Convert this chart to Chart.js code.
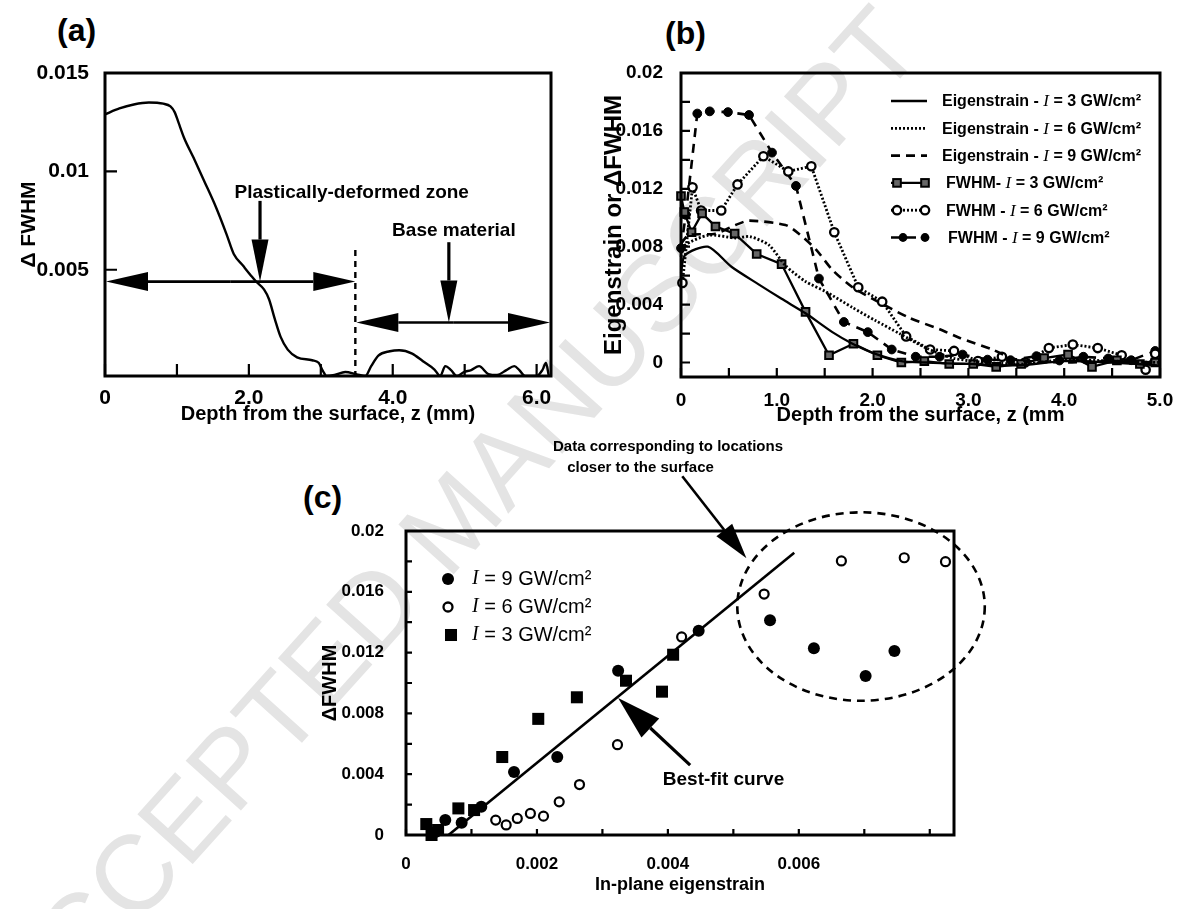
<!DOCTYPE html>
<html><head><meta charset="utf-8">
<script src="https://cdn.jsdelivr.net/npm/chart.js@4.4.1/dist/chart.umd.min.js"></script>
<style>
body{margin:0;width:1184px;height:909px;background:#fff;position:relative;overflow:hidden;font-family:'Liberation Sans',Arial,sans-serif}
canvas{position:absolute}
.lbl{position:absolute;font-weight:bold;font-size:32px;line-height:1;color:#000}
.wm{position:absolute;left:452px;top:520px;transform:translate(-50%,-50%) rotate(-48deg);font-size:108px;color:#e4e4e4;white-space:nowrap;font-family:'Liberation Sans',Arial,sans-serif}
</style></head><body>
<div class="wm">ACCEPTED MANUSCRIPT</div>
<div class="lbl" style="left:57px;top:14px">(a)</div>
<div class="lbl" style="left:665px;top:17px">(b)</div>
<div class="lbl" style="left:303px;top:481px">(c)</div>
<canvas id="ca" width="590" height="440" style="left:0;top:0"></canvas>
<canvas id="cb" width="594" height="440" style="left:590px;top:0"></canvas>
<canvas id="cc" width="700" height="479" style="left:300px;top:430px"></canvas>
<script>
// ---------- Panel (a) ----------
const aDepth = [0,0.2,0.4,0.61,0.81,0.91,0.97,1.02,1.1,1.23,1.38,1.54,1.69,1.79,1.92,2.03,2.1,2.21,2.28,2.36,2.44,2.54,2.67,2.88,2.97,3.03,3.08,3.19,3.34,3.5,3.62,3.7,3.8,3.96,4.09,4.27,4.42,4.58,4.66,4.73,4.81,4.89,4.99,5.09,5.2,5.33,5.45,5.58,5.69,5.76,5.84,5.93,6.0,6.08,6.13,6.17];
const aFWHM = [0.0129,0.0132,0.0134,0.0135,0.01344,0.0133,0.013,0.0125,0.0117,0.0107,0.0095,0.0082,0.0068,0.0058,0.0052,0.0047,0.0044,0.004,0.0035,0.0025,0.0016,0.00094,0.00055,0.0004,0.00027,-0.00015,-0.0004,-0.00035,-0.0002,-0.00032,-0.0004,0.0001,0.00064,0.00086,0.00091,0.00074,0.00035,-0.00007,-0.0004,0.0001,-0.0001,-0.0004,-0.0002,-0.0001,0.0001,-0.0003,-0.00035,-0.0001,0.0001,-0.0001,-0.0004,-0.0004,-0.0004,-0.0001,0.00026,-0.0004];
const aXTicks = [0,1,2,3,4,5,6];
const aXTickLabels = ['0','','2.0','','4.0','','6.0'];
const aYTicks = [0.005,0.01,0.015];
const aYTickLabels = ['0.005','0.01','0.015'];

// ---------- Panel (b) ----------
const bEig3Depth = [0,0.04,0.28,0.53,0.81,1.05,1.30,1.58,1.79,2.03,2.30,2.56,3.0,3.5,4.0,4.5,5.0];
const bEig3 = [0.0062,0.0074,0.0080,0.0066,0.0054,0.0044,0.0034,0.0021,0.0013,0.0006,0.0001,0.0,-0.0001,-0.0002,0.0001,0.0,-0.0002];
const bEig6Depth = [0,0.04,0.29,0.57,0.72,0.92,1.09,1.30,1.51,1.79,2.03,2.28,2.56,2.84,3.2,3.6,4.0,4.5,5.0];
const bEig6 = [0.0073,0.0081,0.0088,0.0086,0.0087,0.0081,0.0067,0.0056,0.0049,0.0038,0.0029,0.0020,0.0010,0.0003,0.0,-0.0001,0.0002,0.0001,0.0];
const bEig9Depth = [0,0.08,0.36,0.57,0.71,1.09,1.23,1.41,1.58,1.79,2.03,2.38,2.70,2.91,3.25,3.5,4.0,4.5,5.0];
const bEig9 = [0.0082,0.0088,0.0089,0.0095,0.0098,0.0095,0.0089,0.0078,0.0064,0.0052,0.0043,0.0031,0.0023,0.0017,0.0009,0.0002,0.0,0.0001,0.0];
const bF3Depth = [0,0.035,0.11,0.22,0.36,0.56,0.79,1.05,1.30,1.545,1.80,2.05,2.30,2.54,2.80,3.05,3.29,3.55,3.79,4.04,4.29,4.55,4.79,4.95];
const bF3 = [0.0115,0.0104,0.0090,0.0103,0.0094,0.0089,0.0075,0.0068,0.0035,0.0005,0.0013,0.0005,0.0,0.0001,-0.0001,-0.0001,-0.0003,-0.0001,0.0003,0.00055,-0.0003,0.00015,-0.0001,0.0];
const bF6Depth = [0.015,0.12,0.21,0.42,0.59,0.86,1.12,1.36,1.60,1.85,2.10,2.35,2.60,2.85,3.10,3.35,3.59,3.84,4.09,4.35,4.60,4.85,4.95];
const bF6 = [0.0055,0.0121,0.0105,0.0105,0.0123,0.01425,0.0132,0.01356,0.0090,0.0052,0.0042,0.0018,0.0009,0.0008,0.0001,0.0004,0.0,0.0010,0.00124,0.0010,0.0005,-0.0005,0.0006];
const bF9Depth = [0,0.05,0.17,0.30,0.49,0.71,0.95,1.20,1.44,1.70,1.95,2.20,2.45,2.70,2.94,3.20,3.44,3.71,3.95,4.20,4.46,4.70,4.95];
const bF9 = [0.0079,0.0102,0.0172,0.01735,0.0173,0.0171,0.0145,0.0122,0.0058,0.0028,0.0021,0.0009,0.0004,0.0004,0.00055,0.0002,0.00016,0.00044,0.00014,0.0004,0.00028,0.00016,0.0008];
const bXTicks = [0,0.5,1,1.5,2,2.5,3,3.5,4,4.5,5];
const bXTickLabels = ['0','','1.0','','2.0','','3.0','','4.0','','5.0'];
const bYTicks = [0,0.002,0.004,0.006,0.008,0.01,0.012,0.014,0.016,0.018,0.02];
const bYTickLabels = ['0','','0.004','','0.008','','0.012','','0.016','','0.02'];
const bLegendPrefix = ['Eigenstrain - ','Eigenstrain - ','Eigenstrain - ','FWHM- ','FWHM - ','FWHM - '];
const bLegendSuffix = [' = 3 GW/cm\u00b2',' = 6 GW/cm\u00b2',' = 9 GW/cm\u00b2',' = 3 GW/cm\u00b2',' = 6 GW/cm\u00b2',' = 9 GW/cm\u00b2'];

// ---------- Panel (c) ----------
const cI9Eig = [0.00045,0.0006,0.00085,0.00115,0.00165,0.00231,0.00324,0.00447,0.00556,0.00623,0.00702,0.00746];
const cI9FWHM = [0.0002,0.00098,0.00081,0.00186,0.00415,0.00513,0.01081,0.01343,0.01413,0.01228,0.01046,0.0121];
const cI6Eig = [0.00137,0.00153,0.0017,0.0019,0.0021,0.00234,0.00265,0.00323,0.00421,0.00547,0.00665,0.00761,0.00824];
const cI6FWHM = [0.00098,0.00066,0.00109,0.00142,0.00124,0.00218,0.00332,0.00594,0.01303,0.01585,0.01803,0.01824,0.01798];
const cI3Eig = [0.00031,0.00039,0.00049,0.0008,0.00104,0.00147,0.00202,0.00261,0.00336,0.00391,0.00408];
const cI3FWHM = [0.00072,0.0,0.00033,0.00175,0.00164,0.00513,0.00764,0.00906,0.01015,0.00943,0.01186];
const cFitEig = [0.00065,0.00593];
const cFitFWHM = [0.0,0.01857];
const cXTicks = [0,0.001,0.002,0.003,0.004,0.005,0.006,0.007,0.008];
const cXTickLabels = ['0','','0.002','','0.004','','0.006','',''];
const cYTicks = [0,0.002,0.004,0.006,0.008,0.01,0.012,0.014,0.016,0.018,0.02];
const cYTickLabels = ['0','','0.004','','0.008','','0.012','','0.016','','0.02'];
const cLegendValues = ['9','6','3'];

// ---------- helpers ----------
const FF = "'Liberation Sans', Arial, sans-serif";
const SERIF = "'Liberation Serif', 'Times New Roman', serif";
const xy = (xs, ys) => xs.map((v, i) => ({x: v, y: ys[i]}));
const bold = s => ({family: FF, size: s, weight: 'bold'});

function axis(min, max, ticks, labels, fitKey, fitVal, pad, tsize, title, tfsize, tpad){
  return {
    type: 'linear', min, max,
    afterBuildTicks: s => { s.ticks = ticks.map(v => ({value: v})); },
    afterFit: s => { s[fitKey] = fitVal; },
    grid: {display: false}, border: {display: false},
    ticks: {autoSkip: false, maxRotation: 0, minRotation: 0, padding: pad, color: '#000', font: bold(tsize),
            callback: (v, i) => labels[i]},
    title: {display: true, text: title, color: '#000', font: bold(tfsize), padding: tpad}
  };
}
function frame(tickLen, lw){
  return {id: 'frame', afterDatasetsDraw(chart){
    const {ctx, chartArea: a, scales: {x, y}} = chart;
    ctx.save(); ctx.strokeStyle = '#000'; ctx.setLineDash([]);
    ctx.lineWidth = 2.2; ctx.beginPath();
    x.ticks.forEach(t => { const p = x.getPixelForValue(t.value); ctx.moveTo(p, a.bottom); ctx.lineTo(p, a.bottom - tickLen); });
    y.ticks.forEach(t => { const p = y.getPixelForValue(t.value); ctx.moveTo(a.left, p); ctx.lineTo(a.left + tickLen, p); });
    ctx.stroke();
    ctx.lineWidth = lw; ctx.strokeRect(a.left, a.top, a.right - a.left, a.bottom - a.top);
    ctx.restore();
  }};
}
function arrow(ctx, x0, y0, x1, y1, hl, hw, lw){
  const ang = Math.atan2(y1 - y0, x1 - x0);
  const bx = x1 - hl * Math.cos(ang), by = y1 - hl * Math.sin(ang);
  ctx.lineWidth = lw; ctx.setLineDash([]);
  ctx.beginPath(); ctx.moveTo(x0, y0); ctx.lineTo(bx, by); ctx.stroke();
  ctx.beginPath(); ctx.moveTo(x1, y1);
  ctx.lineTo(bx + hw * Math.sin(ang), by - hw * Math.cos(ang));
  ctx.lineTo(bx - hw * Math.sin(ang), by + hw * Math.cos(ang));
  ctx.closePath(); ctx.fill();
}
function rich(ctx, x, y, parts){
  let cx = x;
  ctx.textBaseline = 'middle'; ctx.textAlign = 'left'; ctx.fillStyle = '#000';
  parts.forEach(([t, f]) => { ctx.font = f; ctx.fillText(t, cx, y); cx += ctx.measureText(t).width; });
}
const baseOpts = (padding) => ({
  responsive: false, animation: false, events: [],
  layout: {padding},
  plugins: {legend: {display: false}, tooltip: {enabled: false}}
});

// ---------- Chart (a) ----------
const annA = {id: 'annA', afterDraw(chart){
  const {ctx, scales: {x, y}} = chart;
  const X = v => x.getPixelForValue(v), Y = v => y.getPixelForValue(v);
  ctx.save(); ctx.strokeStyle = '#000'; ctx.fillStyle = '#000';
  const zoneEnd = 3.48, yP = 0.0044, yB = 0.00232;
  const mid1 = (X(0) + X(zoneEnd)) / 2;
  arrow(ctx, mid1, Y(yP), X(0) + 1, Y(yP), 42, 9.5, 2.7);
  arrow(ctx, mid1, Y(yP), X(zoneEnd), Y(yP), 42, 9.5, 2.7);
  ctx.lineWidth = 2.4; ctx.setLineDash([6, 5]);
  ctx.beginPath(); ctx.moveTo(X(zoneEnd), Y(0.006)); ctx.lineTo(X(zoneEnd), Y(-0.0004)); ctx.stroke();
  const mid2 = (X(zoneEnd) + X(6.2)) / 2;
  arrow(ctx, mid2, Y(yB), X(zoneEnd) + 1, Y(yB), 42, 9.5, 2.7);
  arrow(ctx, mid2, Y(yB), X(6.2) - 1, Y(yB), 42, 9.5, 2.7);
  arrow(ctx, X(2.155), Y(0.0085), X(2.155), Y(yP), 42, 8.5, 3.2);
  arrow(ctx, X(4.78), Y(0.0064), X(4.78), Y(yB), 42, 8.5, 3.2);
  ctx.textAlign = 'center'; ctx.textBaseline = 'middle';
  ctx.font = 'bold 19px ' + FF;
  ctx.fillText('Plastically-deformed zone', X(3.43), Y(0.0089));
  ctx.fillText('Base material', X(4.85), Y(0.0070));
  ctx.restore();
}};
new Chart(document.getElementById('ca'), {
  type: 'scatter',
  data: {datasets: [{data: xy(aDepth, aFWHM), showLine: true, borderColor: '#000', borderWidth: 2.4,
    pointRadius: 0, cubicInterpolationMode: 'monotone'}]},
  options: Object.assign(baseOpts({top: 73, right: 39, left: 0, bottom: 0}), {
    scales: {
      x: axis(0, 6.2, aXTicks, aXTickLabels, 'height', 64, 2, 21, 'Depth from the surface, z (mm)', 20, {top: 0, bottom: 14}),
      y: axis(-0.0004, 0.015, aYTicks, aYTickLabels, 'width', 105, 8, 21, '\u0394 FWHM', 21, {top: 17, bottom: 0})
    }
  }),
  plugins: [frame(12, 3), annA]
});

// ---------- Chart (b) ----------
const bStyles = [
  {dash: [], lw: 2.3, pt: false},
  {dash: [2, 2], lw: 2.8, pt: false},
  {dash: [9, 6], lw: 2.6, pt: false},
  {dash: [], lw: 2.3, pt: 'rect'},
  {dash: [2, 2], lw: 2.8, pt: 'open'},
  {dash: [9, 7], lw: 2.6, pt: 'filled'}
];
function bDataset(xs, ys, st, tension){
  const d = {data: xy(xs, ys), showLine: true, borderColor: '#000', borderWidth: st.lw, borderDash: st.dash,
    tension: tension, pointRadius: 0, clip: false};
  if (st.pt === 'rect') Object.assign(d, {pointStyle: 'rect', pointRadius: 5.4, pointBackgroundColor: '#666', pointBorderColor: '#000', pointBorderWidth: 2});
  if (st.pt === 'open') Object.assign(d, {pointStyle: 'circle', pointRadius: 4.2, pointBackgroundColor: '#fff', pointBorderColor: '#000', pointBorderWidth: 2.3});
  if (st.pt === 'filled') Object.assign(d, {pointStyle: 'circle', pointRadius: 4.4, pointBackgroundColor: '#000', pointBorderColor: '#000', pointBorderWidth: 1});
  return d;
}
function drawMarker(ctx, kind, x, y, r){
  ctx.save(); ctx.setLineDash([]); ctx.strokeStyle = '#000';
  if (kind === 'rect') { ctx.fillStyle = '#666'; ctx.lineWidth = 2; const s = r * Math.SQRT1_2; ctx.fillRect(x - s, y - s, 2 * s, 2 * s); ctx.strokeRect(x - s, y - s, 2 * s, 2 * s); }
  if (kind === 'open') { ctx.fillStyle = '#fff'; ctx.lineWidth = 2.3; ctx.beginPath(); ctx.arc(x, y, r, 0, 2 * Math.PI); ctx.fill(); ctx.stroke(); }
  if (kind === 'filled') { ctx.fillStyle = '#000'; ctx.beginPath(); ctx.arc(x, y, r, 0, 2 * Math.PI); ctx.fill(); }
  ctx.restore();
}
const legB = {id: 'legB', afterDraw(chart){
  const ctx = chart.ctx;
  const rowY = [101, 128.3, 155.6, 182.9, 210.2, 237.5];
  bStyles.forEach((st, i) => {
    const y = rowY[i], x0 = 301, x1 = 337;
    ctx.save(); ctx.strokeStyle = '#000'; ctx.lineWidth = st.lw; ctx.setLineDash(st.dash);
    ctx.beginPath(); ctx.moveTo(x0, y); ctx.lineTo(x1, y); ctx.stroke(); ctx.restore();
    if (st.pt === 'rect') { drawMarker(ctx, 'rect', x0 + 6, y, 5.4); drawMarker(ctx, 'rect', x1 - 2, y, 5.4); }
    if (st.pt === 'open') { drawMarker(ctx, 'open', x0 + 6, y, 4.2); drawMarker(ctx, 'open', x1 - 2, y, 4.2); }
    if (st.pt === 'filled') { drawMarker(ctx, 'filled', x0 + 12, y, 4.4); drawMarker(ctx, 'filled', x1 - 2, y, 4.4); }
    const tx = i < 3 ? 352 : 356 + (i === 5 ? 2 : 0);
    rich(ctx, tx, y + 1, [[bLegendPrefix[i], 'bold 16px ' + FF], ['I', 'italic 17px ' + SERIF], [bLegendSuffix[i], 'bold 16px ' + FF]]);
  });
}};
new Chart(document.getElementById('cb'), {
  type: 'scatter',
  data: {datasets: [
    bDataset(bEig3Depth, bEig3, bStyles[0], 0.25),
    bDataset(bEig6Depth, bEig6, bStyles[1], 0.25),
    bDataset(bEig9Depth, bEig9, bStyles[2], 0.25),
    bDataset(bF3Depth, bF3, bStyles[3], 0),
    bDataset(bF6Depth, bF6, bStyles[4], 0),
    bDataset(bF9Depth, bF9, bStyles[5], 0)
  ]},
  options: Object.assign(baseOpts({top: 73, right: 24, left: 0, bottom: 0}), {
    scales: {
      x: axis(0, 5, bXTicks, bXTickLabels, 'height', 63, 4, 19, 'Depth from the surface, z (mm', 20, {top: 0, bottom: 13}),
      y: axis(-0.001, 0.02, bYTicks, bYTickLabels, 'width', 91, 10, 19, 'Eigenstrain or \u0394FWHM', 24, {top: 10, bottom: 0})
    }
  }),
  plugins: [frame(9, 3), legB]
});

// ---------- Chart (c) ----------
const cMarks = [
  {kind: 'filled', r: 6},
  {kind: 'open', r: 4.5},
  {kind: 'rect', r: 8.5}
];
const annC = {id: 'annC', afterDraw(chart){
  const {ctx, scales: {x, y}} = chart;
  const X = v => x.getPixelForValue(v), Y = v => y.getPixelForValue(v);
  ctx.save(); ctx.strokeStyle = '#000'; ctx.fillStyle = '#000';
  const ecx = 0.00695, ecy = 0.01503, erx = 0.00189, ery = 0.0062;
  ctx.lineWidth = 2.6; ctx.setLineDash([8, 6]);
  ctx.beginPath();
  ctx.ellipse(X(ecx), Y(ecy), X(ecx + erx) - X(ecx), Y(ecy) - Y(ecy + ery), 0, 0, 2 * Math.PI);
  ctx.stroke();
  arrow(ctx, X(0.00422), Y(0.0236), X(0.0052), Y(0.0182), 36, 10, 2.6);
  arrow(ctx, X(0.00434), Y(0.0046), X(0.00324), Y(0.00901), 44, 13, 3.2);
  ctx.textAlign = 'center'; ctx.textBaseline = 'middle'; ctx.font = 'bold 19px ' + FF;
  ctx.fillText('Best-fit curve', X(0.00485), Y(0.00362));
  ctx.font = 'bold 15px ' + FF;
  ctx.fillText('Data corresponding to locations', 368, 17);
  ctx.textAlign = 'left';
  ctx.fillText(' closer to the surface', 263, 38);
  const rowY = [149, 177, 205];
  cMarks.forEach((m, i) => {
    if (m.kind === 'rect') { ctx.save(); ctx.setLineDash([]); const s = m.r * Math.SQRT1_2; ctx.fillRect(151 - s, rowY[i] - s, 2 * s, 2 * s); ctx.restore(); }
    else drawMarker(ctx, m.kind, 148, rowY[i], m.r);
    rich(ctx, 172, rowY[i], [['I', 'italic 20px ' + SERIF], [' = ' + cLegendValues[i] + ' GW/cm\u00b2', '20px ' + FF]]);
  });
  ctx.restore();
}};
new Chart(document.getElementById('cc'), {
  type: 'scatter',
  data: {datasets: [
    {data: xy(cFitEig, cFitFWHM), showLine: true, borderColor: '#000', borderWidth: 2.6, pointRadius: 0, clip: false},
    {data: xy(cI9Eig, cI9FWHM), pointStyle: 'circle', pointRadius: 6, pointBackgroundColor: '#000', pointBorderColor: '#000', pointBorderWidth: 0, clip: false},
    {data: xy(cI6Eig, cI6FWHM), pointStyle: 'circle', pointRadius: 4.5, pointBackgroundColor: '#fff', pointBorderColor: '#000', pointBorderWidth: 2.2, clip: false},
    {data: xy(cI3Eig, cI3FWHM), pointStyle: 'rect', pointRadius: 8.5, pointBackgroundColor: '#000', pointBorderColor: '#000', pointBorderWidth: 0, clip: false}
  ]},
  options: Object.assign(baseOpts({top: 101, right: 46, left: 0, bottom: 0}), {
    scales: {
      x: axis(0, 0.00837, cXTicks, cXTickLabels, 'height', 74, 11, 17, 'In-plane eigenstrain', 18, {top: 0, bottom: 13}),
      y: axis(0, 0.02, cYTicks, cYTickLabels, 'width', 106, 14, 17, '\u0394FWHM', 20, {top: 18, bottom: 0})
    }
  }),
  plugins: [frame(6, 3), annC]
});
</script>
</body></html>
